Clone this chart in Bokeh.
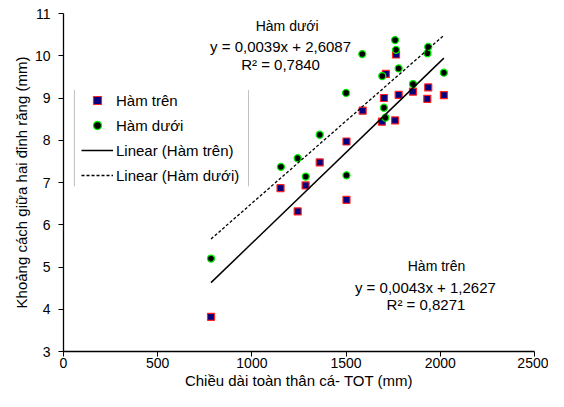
from bokeh.plotting import figure
from bokeh.models import FixedTicker, Label, BoxAnnotation
from bokeh.embed import file_html
from bokeh.resources import INLINE

# Data: Hàm trên (upper jaw)
tren_x = [783, 1152, 1243, 1285, 1360, 1502, 1502, 1588, 1690, 1701, 1711, 1760, 1765, 1779, 1855, 1931, 1936, 2019]
tren_y = [3.82, 6.865, 6.316, 6.93, 7.475, 7.97, 6.59, 8.70, 8.44, 9.00, 9.57, 8.47, 10.03, 9.075, 9.15, 8.98, 9.25, 9.07]
# Data: Hàm dưới (lower jaw)
duoi_x = [783, 1154, 1243, 1286, 1360, 1500, 1502, 1586, 1692, 1701, 1709, 1760, 1765, 1779, 1855, 1932, 1936, 2019]
duoi_y = [5.20, 7.37, 7.575, 7.14, 8.13, 9.12, 7.17, 10.04, 9.52, 8.77, 8.535, 10.37, 10.14, 9.70, 9.33, 10.06, 10.21, 9.60]

# Trendline coefficients (from the chart's equations)
tren_slope, tren_icpt = 0.0043, 1.2627
duoi_slope, duoi_icpt = 0.0039, 2.6087

x_ticks = [0, 500, 1000, 1500, 2000, 2500]
y_ticks = [3, 4, 5, 6, 7, 8, 9, 10, 11]

FONT = "Liberation Sans"

p = figure(width=548, height=391, x_range=(0, 2500), y_range=(3, 11),
           output_backend="svg", toolbar_location=None,
           min_border_left=63, min_border_top=13, min_border_right=14, min_border_bottom=38)
p.outline_line_color = None
p.xgrid.visible = False
p.ygrid.visible = False
p.background_fill_color = "white"

for ax in (p.xaxis[0], p.yaxis[0]):
    ax.major_label_text_font = FONT
    ax.major_label_text_font_size = "14px"
    ax.major_label_text_color = "black"
    ax.axis_label_text_font = FONT
    ax.axis_label_text_font_size = "15px"
    ax.axis_label_text_font_style = "normal"
    ax.axis_label_text_color = "black"
    ax.axis_line_color = "black"
    ax.axis_line_width = 1.3
    ax.major_tick_line_color = "black"
    ax.major_tick_in = 0
    ax.major_tick_out = 5
    ax.minor_tick_line_color = None

p.xaxis.ticker = FixedTicker(ticks=x_ticks)
p.yaxis.ticker = FixedTicker(ticks=y_ticks)
p.xaxis.axis_label = "Chiều dài toàn thân cá- TOT (mm)"
p.yaxis.axis_label = "Khoảng cách giữa hai đỉnh răng (mm)"
p.xaxis.major_label_standoff = 1
p.xaxis.axis_label_standoff = 1
p.yaxis.major_label_standoff = 8
p.yaxis.axis_label_standoff = 2

# Points
p.scatter(tren_x, tren_y, marker="square", size=7, fill_color="#000080",
          line_color="#FF2020", line_width=1.2, legend_label="Hàm trên")
p.scatter(duoi_x, duoi_y, marker="circle", size=7, fill_color="black",
          line_color="#00EE00", line_width=1.3, legend_label="Hàm dưới")

# Trendlines
tx = [min(tren_x), max(tren_x)]
dx = [min(duoi_x), max(duoi_x)]
p.line(tx, [tren_slope * v + tren_icpt for v in tx], line_color="black", line_width=1.5,
       legend_label="Linear (Hàm trên)")
p.line(dx, [duoi_slope * v + duoi_icpt for v in dx], line_color="black", line_width=1.3,
       line_dash="3 2", legend_label="Linear (Hàm dưới)")

# Equation labels
labels = [
    ("Hàm dưới", 1187, 10.70, "14px"),
    ("y = 0,0039x + 2,6087", 1152, 10.22, "15px"),
    ("R² = 0,7840", 1152, 9.80, "15px"),
    ("Hàm trên", 1980, 5.02, "14px"),
    ("y = 0,0043x + 1,2627", 1921, 4.52, "15px"),
    ("R² = 0,8271", 1924, 4.11, "15px"),
]
for t, lx, ly, fs in labels:
    p.add_layout(Label(x=lx, y=ly, text=t, text_align="center", text_baseline="middle",
                       text_font=FONT, text_font_size=fs, text_color="black"))

# Legend
lg = p.legend[0]
lg.location = (12, 160)
lg.border_line_alpha = 0
lg.background_fill_alpha = 0
lg.label_text_font = FONT
lg.label_text_font_size = "15px"
lg.label_text_color = "black"
lg.glyph_width = 32
lg.glyph_height = 20
lg.label_height = 20
lg.label_standoff = 3
lg.spacing = 5
lg.padding = 6
lg.margin = 0

# Legend side lines
p.add_layout(BoxAnnotation(left=58, right=58, top=9.19, bottom=6.91, fill_alpha=0,
                           line_color="#888888", line_width=1))
p.add_layout(BoxAnnotation(left=982, right=982, top=9.19, bottom=6.91, fill_alpha=0,
                           line_color="#888888", line_width=1))

open("out.html", "w").write(file_html(p, INLINE))
